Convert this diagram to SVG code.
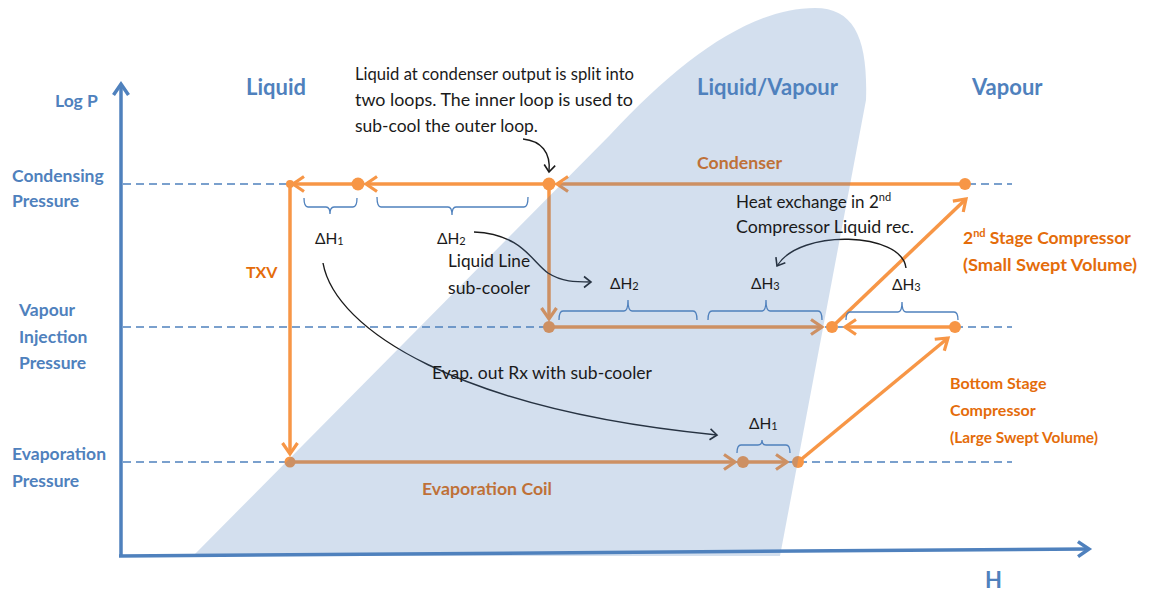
<svg xmlns="http://www.w3.org/2000/svg" width="1152" height="594" viewBox="0 0 1152 594">
  <style>
    .axis { stroke: #4F81BD; stroke-width: 3.5; fill: none; }
    .level { stroke: #4F81BD; stroke-width: 1.5; stroke-dasharray: 8 5; fill: none; }
    .flow { stroke: #F79646; stroke-width: 3.5; fill: none; marker-end: url(#ah-orange); }
    .pt { fill: #F79646; }
    .note { stroke: #1a1a1a; stroke-width: 1.4; fill: none; marker-end: url(#ah-black); }
    .brace { stroke: #4F81BD; stroke-width: 1.3; fill: none; }
    .axlbl { font-family: Lato, "Open Sans", sans-serif; font-weight: bold; fill: #4F81BD; font-size: 17.5px; }
    .region { font-family: Lato, "Open Sans", sans-serif; font-weight: bold; fill: #4F81BD; font-size: 22px; }
    .olbl { font-family: Lato, "Open Sans", sans-serif; font-weight: bold; fill: #E46C0A; font-size: 17.5px; }
    .olbl-s { font-family: Lato, "Open Sans", sans-serif; font-weight: bold; fill: #E46C0A; font-size: 16px; }
    .txt { font-family: Lato, "Open Sans", sans-serif; fill: #1a1a1a; font-size: 17px; }
    .dh { font-family: Lato, "Open Sans", sans-serif; fill: #1a1a1a; font-size: 15.5px; }
    .sub { font-size: 11px; }
  </style>
  <defs>
    <marker id="ah-orange" viewBox="-16 -12 20 24" refX="0" refY="0" markerWidth="20" markerHeight="24" markerUnits="userSpaceOnUse" orient="auto" overflow="visible">
      <path d="M-11,-7.5 L0,0 L-11,7.5" fill="none" stroke="#F79646" stroke-width="3.2"/>
    </marker>
    <marker id="ah-black" viewBox="-10 -8 12 16" refX="0" refY="0" markerWidth="12" markerHeight="16" markerUnits="userSpaceOnUse" orient="auto" overflow="visible">
      <path d="M-7,-5.5 L0,0 L-7,5.5" fill="none" stroke="#1a1a1a" stroke-width="1.6"/>
    </marker>
    <marker id="ah-blue" viewBox="-16 -12 20 24" refX="0" refY="0" markerWidth="20" markerHeight="24" markerUnits="userSpaceOnUse" orient="auto" overflow="visible">
      <path d="M-11,-7.5 L0,0 L-11,7.5" fill="none" stroke="#4F81BD" stroke-width="3.5"/>
    </marker>
  </defs>

  <rect width="1152" height="594" fill="#ffffff"/>

  <!-- pressure levels -->
  <g id="levels">
    <line class="level" x1="123" y1="184" x2="1012" y2="184"/>
    <line class="level" x1="123" y1="327" x2="1012" y2="327"/>
    <line class="level" x1="123" y1="462" x2="1012" y2="462"/>
  </g>

  <!-- refrigerant cycle -->
  <g id="connectors">
    <path class="flow" d="M965 184 L557 184"/>
    <path class="flow" d="M549 184 L366 184"/>
    <path class="flow" d="M358 184 L293 184"/>
    <path class="flow" d="M290 184 L290 454"/>
    <path class="flow" d="M290 462 L735 462"/>
    <path class="flow" d="M743 462 L787 462"/>
    <path class="flow" d="M798 462 L948 338"/>
    <path class="flow" d="M955 327 L845 327"/>
    <path class="flow" d="M549 184 L549 319"/>
    <path class="flow" d="M549 327 L822 327"/>
    <path class="flow" d="M832 327 L966 199"/>

    <path class="note" d="M523 139 C541 141 551 152 549 172"/>
    <path class="note" d="M474 232 C522 234 532 262 548 273 C562 282 575 282 591 282"/>
    <path class="note" d="M323 263 C335 330 460 410 717 435"/>
    <path class="note" d="M906 268 C902 232 800 228 777 266"/>
  </g>

  <!-- state points -->
  <g id="point-cond-in"><circle class="pt" cx="965" cy="184" r="6"/></g>
  <g id="point-split"><circle class="pt" cx="549" cy="184" r="6.5"/></g>
  <g id="point-subcooled"><circle class="pt" cx="358" cy="184" r="6.5"/></g>
  <g id="point-txv-in"><circle class="pt" cx="290" cy="184" r="4"/></g>
  <g id="point-evap-in"><circle class="pt" cx="290" cy="462" r="5.5"/></g>
  <g id="point-evap-mid"><circle class="pt" cx="743" cy="462" r="6"/></g>
  <g id="point-evap-out"><circle class="pt" cx="798" cy="462" r="6"/></g>
  <g id="point-inj-in"><circle class="pt" cx="549" cy="327" r="6"/></g>
  <g id="point-mix"><circle class="pt" cx="832" cy="327" r="6"/></g>
  <g id="point-low-out"><circle class="pt" cx="955" cy="327" r="6"/></g>

  <!-- enthalpy braces -->
  <g id="braces">
    <path class="brace" d="M304 198 Q304 207 308 207 L326 207 Q330 207 330 214 Q330 207 334 207 L353 207 Q357 207 357 198"/>
    <path class="brace" d="M377 197 Q377 207 381 207 L448 207 Q452 207 452 215 Q452 207 456 207 L524 207 Q528 207 528 197"/>
    <path class="brace" d="M559 320 Q559 311 563 311 L624 311 Q628 311 628 300 Q628 311 632 311 L693 311 Q697 311 697 320"/>
    <path class="brace" d="M708 320 Q708 311 712 311 L762 311 Q766 311 766 300 Q766 311 770 311 L818 311 Q822 311 822 320"/>
    <path class="brace" d="M846 320 Q846 312 850 312 L898 312 Q902 312 902 302 Q902 312 906 312 L954 312 Q958 312 958 320"/>
    <path class="brace" d="M737 453 Q737 445 741 445 L758 445 Q762 445 762 440 Q762 445 766 445 L786 445 Q790 445 790 453"/>
  </g>

  <!-- cycle labels -->
  <g id="cycle-labels">
    <text class="olbl" x="697" y="169" textLength="85" lengthAdjust="spacingAndGlyphs">Condenser</text>
    <text class="olbl-s" x="246" y="278">TXV</text>
    <text class="olbl" x="422" y="495" font-size="17" textLength="130" lengthAdjust="spacingAndGlyphs">Evaporation Coil</text>
    <text class="olbl" x="963" y="244">2<tspan font-size="11" dy="-7">nd</tspan><tspan dy="7"> Stage Compressor</tspan></text>
    <text class="olbl" x="963" y="271" textLength="174" lengthAdjust="spacingAndGlyphs">(Small Swept Volume)</text>
    <text class="olbl-s" x="950" y="389">Bottom Stage</text>
    <text class="olbl-s" x="950" y="416">Compressor</text>
    <text class="olbl-s" x="950" y="443" textLength="148" lengthAdjust="spacingAndGlyphs">(Large Swept Volume)</text>
  </g>

  <!-- two-phase region -->
  <g id="dome">
    <path d="M193 556 L610 135 C680 60 750 8 815 8 C855 8 868 40 866 100 L780 556 Z" fill="#4F81BD" fill-opacity="0.25"/>
  </g>

  <!-- axes -->
  <g id="axes">
    <path class="axis" d="M121 556 L121 84" marker-end="url(#ah-blue)"/>
    <path class="axis" d="M119 556 L1089 549" marker-end="url(#ah-blue)"/>
  </g>

  <!-- axis and region labels -->
  <g id="axis-labels">
    <text class="axlbl" x="55" y="107">Log P</text>
    <text class="axlbl" x="12" y="182">Condensing</text>
    <text class="axlbl" x="12" y="207">Pressure</text>
    <text class="axlbl" x="19" y="316">Vapour</text>
    <text class="axlbl" x="19" y="343">Injection</text>
    <text class="axlbl" x="19" y="369">Pressure</text>
    <text class="axlbl" x="12" y="460">Evaporation</text>
    <text class="axlbl" x="12" y="487">Pressure</text>
    <text class="region" x="246" y="95">Liquid</text>
    <text class="region" x="697" y="95">Liquid/Vapour</text>
    <text class="region" x="972" y="95">Vapour</text>
    <text class="region" x="985" y="588">H</text>
  </g>

  <!-- notes -->
  <g id="notes">
    <text class="txt" x="355" y="80" textLength="279" lengthAdjust="spacingAndGlyphs">Liquid at condenser output is split into</text>
    <text class="txt" x="355" y="106" textLength="278" lengthAdjust="spacingAndGlyphs">two loops. The inner loop is used to</text>
    <text class="txt" x="355" y="132" textLength="183" lengthAdjust="spacingAndGlyphs">sub-cool the outer loop.</text>
    <text class="txt" x="736" y="208">Heat exchange in 2<tspan font-size="11" dy="-7">nd</tspan></text>
    <text class="txt" x="736" y="233" textLength="178" lengthAdjust="spacingAndGlyphs">Compressor Liquid rec.</text>
    <text class="txt" x="448" y="267" textLength="82" lengthAdjust="spacingAndGlyphs">Liquid Line</text>
    <text class="txt" x="448" y="294" textLength="82" lengthAdjust="spacingAndGlyphs">sub-cooler</text>
    <text class="txt" x="432" y="379" textLength="220" lengthAdjust="spacingAndGlyphs">Evap. out Rx with sub-cooler</text>
  </g>

  <!-- enthalpy differences -->
  <g id="dh-labels">
    <text class="dh" x="315" y="244">ΔH<tspan class="sub" dy="1">1</tspan></text>
    <text class="dh" x="437" y="244">ΔH<tspan class="sub" dy="1">2</tspan></text>
    <text class="dh" x="610" y="289">ΔH<tspan class="sub" dy="1">2</tspan></text>
    <text class="dh" x="751" y="289">ΔH<tspan class="sub" dy="1">3</tspan></text>
    <text class="dh" x="892" y="290">ΔH<tspan class="sub" dy="1">3</tspan></text>
    <text class="dh" x="749" y="429">ΔH<tspan class="sub" dy="1">1</tspan></text>
  </g>
</svg>
